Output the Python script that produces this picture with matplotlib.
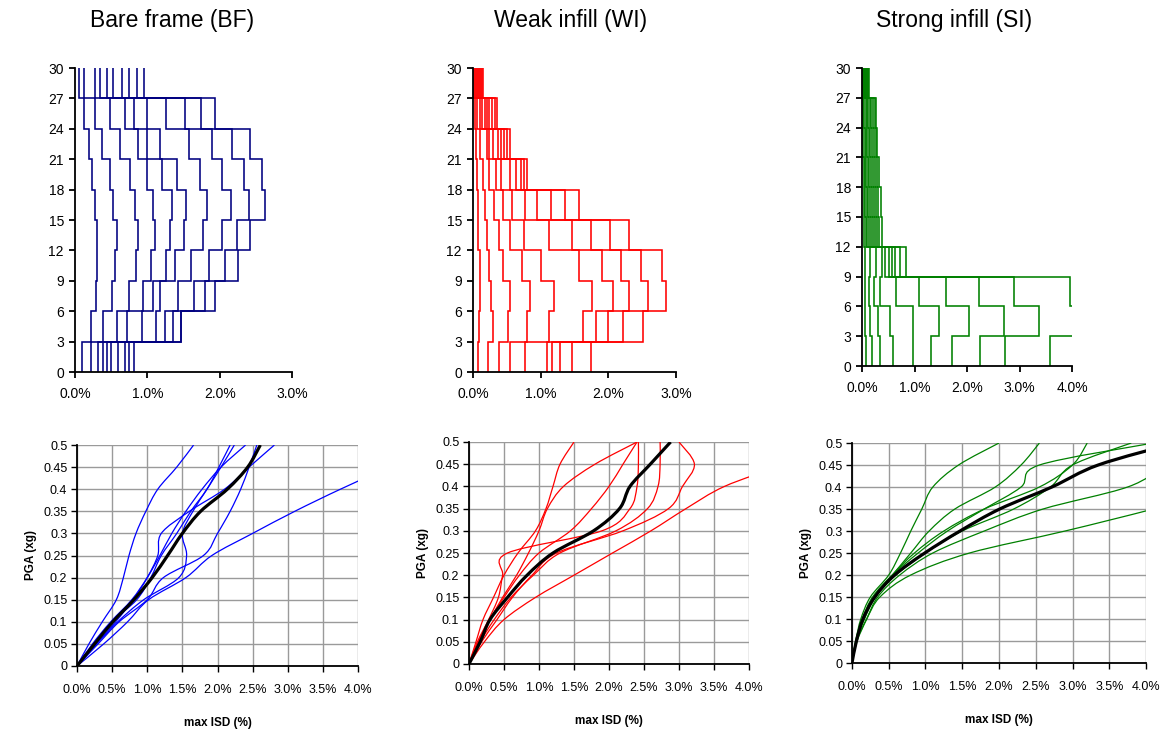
import numpy as np
import matplotlib
matplotlib.use("Agg")
import matplotlib.pyplot as plt
from matplotlib.ticker import FuncFormatter, MultipleLocator
from matplotlib.path import Path
from matplotlib.patches import PathPatch

plt.rcParams['font.family'] = ['Liberation Sans', 'DejaVu Sans']

# ---------------- data ----------------
storey_edges = [0, 3, 6, 9, 12, 15, 18, 21, 24, 27, 30]

# interstorey drift (%) per storey (rows: storey 1..10), one value per intensity level
bf_drift = [
    [0.10, 0.22, 0.32, 0.39, 0.44, 0.50, 0.60, 0.69, 0.75, 0.82],
    [0.22, 0.39, 0.58, 0.72, 0.92, 1.12, 1.24, 1.35, 1.47, 1.47],
    [0.29, 0.51, 0.75, 0.94, 1.08, 1.18, 1.43, 1.65, 1.80, 1.94],
    [0.30, 0.55, 0.84, 1.05, 1.26, 1.38, 1.61, 1.85, 2.07, 2.25],
    [0.31, 0.58, 0.87, 1.11, 1.32, 1.50, 1.77, 2.03, 2.24, 2.42],
    [0.28, 0.53, 0.83, 1.08, 1.34, 1.54, 1.82, 2.15, 2.41, 2.63],
    [0.23, 0.48, 0.76, 0.99, 1.20, 1.41, 1.73, 2.03, 2.33, 2.58],
    [0.19, 0.37, 0.62, 0.87, 0.99, 1.18, 1.57, 1.89, 2.17, 2.42],
    [0.13, 0.28, 0.48, 0.69, 0.81, 1.00, 1.26, 1.52, 1.74, 1.94],
    [0.05, 0.13, 0.28, 0.35, 0.44, 0.52, 0.65, 0.75, 0.86, 0.96],
]
wi_drift = [
    [0.07, 0.22, 0.38, 0.55, 0.77, 1.10, 1.17, 1.28, 1.47, 1.74],
    [0.09, 0.29, 0.52, 0.80, 1.13, 1.62, 1.82, 1.99, 2.21, 2.51],
    [0.11, 0.27, 0.54, 0.84, 1.19, 1.76, 2.07, 2.30, 2.58, 2.85],
    [0.10, 0.24, 0.45, 0.72, 1.00, 1.56, 1.91, 2.18, 2.49, 2.79],
    [0.08, 0.20, 0.38, 0.55, 0.76, 1.12, 1.47, 1.75, 2.03, 2.30],
    [0.07, 0.17, 0.31, 0.44, 0.58, 0.77, 0.95, 1.15, 1.36, 1.57],
    [0.06, 0.15, 0.23, 0.34, 0.41, 0.54, 0.64, 0.71, 0.76, 0.80],
    [0.05, 0.10, 0.20, 0.24, 0.29, 0.37, 0.41, 0.46, 0.50, 0.54],
    [0.03, 0.06, 0.10, 0.13, 0.17, 0.20, 0.24, 0.28, 0.32, 0.35],
    [0.01, 0.03, 0.05, 0.06, 0.08, 0.09, 0.11, 0.12, 0.14, 0.15],
]
si_drift = [
    [0.07, 0.19, 0.35, 0.59, 0.98, 1.31, 1.72, 2.25, 2.73, 3.58],
    [0.05, 0.15, 0.30, 0.54, 0.97, 1.47, 2.03, 2.71, 3.37, 4.60],
    [0.05, 0.13, 0.22, 0.34, 0.65, 1.09, 1.60, 2.23, 2.90, 3.96],
    [0.05, 0.16, 0.27, 0.38, 0.44, 0.51, 0.57, 0.63, 0.73, 0.84],
    [0.04, 0.07, 0.10, 0.13, 0.17, 0.20, 0.24, 0.28, 0.33, 0.39],
    [0.03, 0.06, 0.09, 0.12, 0.16, 0.19, 0.23, 0.27, 0.31, 0.36],
    [0.03, 0.06, 0.08, 0.11, 0.14, 0.17, 0.21, 0.25, 0.28, 0.32],
    [0.02, 0.05, 0.07, 0.10, 0.13, 0.16, 0.19, 0.22, 0.26, 0.29],
    [0.02, 0.04, 0.07, 0.09, 0.12, 0.15, 0.18, 0.21, 0.24, 0.27],
    [0.01, 0.03, 0.04, 0.05, 0.07, 0.08, 0.10, 0.11, 0.12, 0.14],
]

pga_levels = [0, 0.05, 0.10, 0.15, 0.20, 0.25, 0.30, 0.35, 0.40, 0.45, 0.50]

# max ISD (%) of each record at each PGA level
bf_records = [
    [0, 0.17, 0.36, 0.56, 0.66, 0.74, 0.84, 0.98, 1.15, 1.42, 1.66],
    [0, 0.27, 0.55, 0.80, 1.00, 1.15, 1.20, 1.60, 2.10, 2.45, 2.81],
    [0, 0.38, 0.72, 1.02, 1.55, 1.92, 2.50, 3.10, 3.75, 4.45, 5.20],
    [0, 0.30, 0.60, 1.00, 1.23, 1.80, 2.00, 2.18, 2.33, 2.45, 2.56],
    [0, 0.28, 0.58, 0.95, 1.45, 1.56, 1.50, 1.65, 1.85, 2.05, 2.24],
    [0, 0.25, 0.50, 0.85, 1.05, 1.20, 1.42, 1.62, 1.85, 2.02, 2.18],
    [0, 0.22, 0.48, 0.78, 1.00, 1.18, 1.35, 1.55, 1.78, 2.05, 2.40],
]
bf_mean = [0, 0.25, 0.51, 0.81, 1.07, 1.29, 1.50, 1.76, 2.14, 2.43, 2.61]

wi_records = [
    [0, 0.10, 0.20, 0.35, 0.50, 0.70, 0.95, 1.10, 1.20, 1.30, 1.50],
    [0, 0.12, 0.28, 0.42, 0.48, 0.55, 1.90, 2.30, 2.40, 2.42, 2.42],
    [0, 0.13, 0.30, 0.48, 0.68, 0.85, 1.00, 1.12, 1.35, 1.80, 2.40],
    [0, 0.18, 0.40, 0.62, 0.90, 1.25, 2.20, 2.85, 3.05, 3.22, 3.00],
    [0, 0.22, 0.50, 0.95, 1.50, 2.05, 2.60, 3.10, 3.65, 4.50, 5.20],
    [0, 0.14, 0.30, 0.50, 0.72, 1.00, 1.45, 1.75, 2.00, 2.20, 2.40],
    [0, 0.16, 0.36, 0.60, 0.92, 1.30, 2.10, 2.55, 2.70, 2.73, 2.73],
]
wi_mean = [0, 0.16, 0.30, 0.55, 0.83, 1.20, 1.78, 2.15, 2.30, 2.59, 2.88]

si_records = [
    [0, 0.05, 0.12, 0.25, 0.50, 0.66, 0.80, 0.95, 1.10, 1.45, 2.00],
    [0, 0.06, 0.14, 0.30, 0.55, 0.80, 1.05, 1.40, 1.95, 2.30, 2.55],
    [0, 0.06, 0.16, 0.32, 0.55, 0.85, 1.25, 1.80, 2.55, 3.00, 3.20],
    [0, 0.07, 0.20, 0.35, 0.65, 1.10, 1.80, 2.60, 3.75, 4.30, 5.00],
    [0, 0.06, 0.20, 0.38, 0.80, 1.60, 2.90, 4.10, 5.20, 6.00, 7.00],
    [0, 0.05, 0.14, 0.28, 0.55, 0.90, 1.30, 1.80, 2.30, 2.55, 4.10],
    [0, 0.06, 0.17, 0.32, 0.60, 1.00, 1.50, 2.20, 2.70, 3.00, 3.80],
]
si_mean = [0, 0.06, 0.15, 0.31, 0.58, 0.99, 1.47, 2.01, 2.72, 3.35, 4.40]

titles = ["Bare frame (BF)", "Weak infill (WI)", "Strong infill (SI)"]

# ---------------- figure ----------------
W, H = 1162, 732
fig = plt.figure(figsize=(W / 100, H / 100), dpi=100)

def box(l, r, t, b):
    return [l / W, (H - b) / H, (r - l) / W, (b - t) / H]

pct = FuncFormatter(lambda v, p: f"{v:.1f}%")


def smooth_line(ax, xs, ys, **kw):
    """Draw a smoothed (Excel-style) line through the data points via Bezier segments."""
    P = np.column_stack([xs, ys]).astype(float)
    n = len(P)
    verts = [P[0]]
    codes = [Path.MOVETO]
    for i in range(n - 1):
        p0 = P[i - 1] if i > 0 else P[i]
        p1, p2 = P[i], P[i + 1]
        p3 = P[i + 2] if i + 2 < n else P[i + 1]
        c1 = p1 + (p2 - p0) / 6.0
        c2 = p2 - (p3 - p1) / 6.0
        verts += [c1, c2, p2]
        codes += [Path.CURVE4] * 3
    patch = PathPatch(Path(verts, codes), fill=False, **kw)
    ax.add_patch(patch)


top_specs = [
    (bf_drift, '#000080', box(75, 292, 68, 372), 3),
    (wi_drift, '#FF0000', box(473, 676, 68, 372), 3),
    (si_drift, '#008000', box(862, 1072, 68, 366), 4),
]
title_x = [172, 571, 954]

for i, (drift, col, pos, xmax) in enumerate(top_specs):
    ax = fig.add_axes(pos)
    d = np.array(drift)
    ys = np.repeat(storey_edges, 2)[1:-1]
    for k in range(d.shape[1]):
        xs = np.repeat(d[:, k], 2)
        ax.plot(xs, ys, color=col, lw=1.15, solid_joinstyle='miter')
    ax.set_xlim(0, xmax)
    ax.set_ylim(0, 30)
    ax.xaxis.set_major_locator(MultipleLocator(1))
    ax.yaxis.set_major_locator(MultipleLocator(3))
    ax.xaxis.set_major_formatter(pct)
    for s in ['top', 'right']:
        ax.spines[s].set_visible(False)
    for s in ['left', 'bottom']:
        ax.spines[s].set_linewidth(1.3)
    ax.tick_params(axis='both', direction='out', length=4, width=1.3,
                   labelsize=10)
    ax.tick_params(axis='x', pad=7)
    ax.tick_params(axis='y', pad=4)
    fig.text(title_x[i] / W, 1 - 20 / H, titles[i], ha='center', va='center',
             fontsize=16.5)

bot_specs = [
    (bf_records, bf_mean, '#0000FF', box(77, 358, 445, 666)),
    (wi_records, wi_mean, '#FF0000', box(469, 749, 442, 664)),
    (si_records, si_mean, '#008000', box(852, 1146, 443, 663)),
]

for recs, mean, col, pos in bot_specs:
    ax = fig.add_axes(pos)
    for r in recs:
        smooth_line(ax, r, pga_levels, edgecolor=col, lw=0.9)
    smooth_line(ax, mean, pga_levels, edgecolor='black', lw=2.3)
    ax.set_xlim(0, 4)
    ax.set_ylim(0, 0.5)
    ax.xaxis.set_major_locator(MultipleLocator(0.5))
    ax.yaxis.set_major_locator(MultipleLocator(0.05))
    ax.xaxis.set_major_formatter(pct)
    ax.yaxis.set_major_formatter(FuncFormatter(
        lambda v, p: (f"{v:.2f}".rstrip('0').rstrip('.')) if abs(v) > 1e-9 else "0"))
    ax.grid(True, color='#9a9a9a', lw=1.0)
    ax.set_axisbelow(True)
    for s in ['top', 'right']:
        ax.spines[s].set_visible(False)
    for s in ['left', 'bottom']:
        ax.spines[s].set_linewidth(1.3)
    ax.tick_params(axis='both', direction='out', length=4, width=1.0,
                   labelsize=9)
    ax.tick_params(axis='x', pad=9)
    ax.tick_params(axis='y', pad=3)
    ax.set_xlabel("max ISD (%)", fontsize=8.5, fontweight='bold', labelpad=15)
    ax.set_ylabel("PGA (xg)", fontsize=8.5, fontweight='bold', labelpad=4)

fig.savefig("out.png", dpi=100)
